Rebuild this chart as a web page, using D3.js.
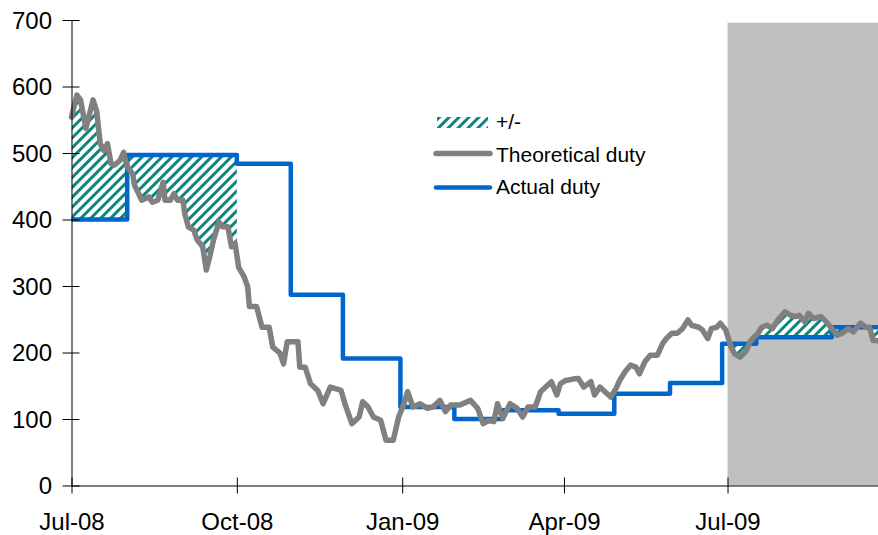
<!DOCTYPE html>
<html>
<head>
<meta charset="utf-8">
<script src="https://cdn.jsdelivr.net/npm/d3@7"></script>
<style>
  body { margin: 0; background: #fff; }
  svg { display: block; font-family: "Liberation Sans", Arial, sans-serif; }
</style>
</head>
<body>
<svg id="chart" width="878" height="535"></svg>
<script>
// Theoretical duty
const theoDates = [
  '2008-07-01','2008-07-04','2008-07-06','2008-07-09','2008-07-13','2008-07-15','2008-07-17','2008-07-19',
  '2008-07-21','2008-07-23','2008-07-25','2008-07-28','2008-07-30','2008-08-01','2008-08-04','2008-08-05',
  '2008-08-07','2008-08-09','2008-08-13','2008-08-15','2008-08-18','2008-08-21','2008-08-22','2008-08-25',
  '2008-08-27','2008-08-29','2008-09-01','2008-09-02','2008-09-04','2008-09-07','2008-09-09','2008-09-12',
  '2008-09-14','2008-09-16','2008-09-18','2008-09-21','2008-09-23','2008-09-26','2008-09-28','2008-09-30',
  '2008-10-02','2008-10-05','2008-10-07','2008-10-08','2008-10-12','2008-10-15','2008-10-19','2008-10-21',
  '2008-10-25','2008-10-27','2008-10-29','2008-11-04','2008-11-05','2008-11-08','2008-11-11','2008-11-15',
  '2008-11-18','2008-11-22','2008-11-28','2008-11-30','2008-12-04','2008-12-08','2008-12-10','2008-12-13',
  '2008-12-16','2008-12-20','2008-12-23','2008-12-27','2008-12-30','2009-01-02','2009-01-04','2009-01-07',
  '2009-01-11','2009-01-15','2009-01-18','2009-01-22','2009-01-25','2009-01-28','2009-02-02','2009-02-08',
  '2009-02-12','2009-02-15','2009-02-18','2009-02-21','2009-02-23','2009-02-26','2009-03-02','2009-03-06',
  '2009-03-09','2009-03-12','2009-03-16','2009-03-19','2009-03-23','2009-03-25','2009-03-28','2009-03-30',
  '2009-04-02','2009-04-06','2009-04-09','2009-04-12','2009-04-16','2009-04-18','2009-04-21','2009-04-25',
  '2009-04-27','2009-04-30','2009-05-02','2009-05-05','2009-05-08','2009-05-11','2009-05-13','2009-05-16',
  '2009-05-19','2009-05-23','2009-05-26','2009-05-28','2009-05-31','2009-06-03','2009-06-06','2009-06-09',
  '2009-06-11','2009-06-15','2009-06-17','2009-06-20','2009-06-22','2009-06-25','2009-06-27','2009-06-30',
  '2009-07-03','2009-07-05','2009-07-08','2009-07-11','2009-07-14','2009-07-18','2009-07-20','2009-07-23',
  '2009-07-26','2009-07-29','2009-08-02','2009-08-05','2009-08-08','2009-08-10','2009-08-13','2009-08-15',
  '2009-08-18','2009-08-22','2009-08-25','2009-08-28','2009-08-31','2009-09-03','2009-09-06','2009-09-09',
  '2009-09-13','2009-09-16','2009-09-18','2009-09-20','2009-09-22','2009-09-25'
];
const theoValues = [
  554, 587, 580, 537, 580, 563, 514, 504,
  514, 484, 482, 489, 501, 479, 469, 452,
  441, 429, 434, 426, 429, 456, 429, 429,
  439, 429, 429, 409, 389, 384, 369, 359,
  324, 345, 369, 396, 389, 389, 359, 364,
  328, 314, 299, 269, 269, 238, 238, 208,
  199, 183, 216, 216, 178, 178, 153, 143,
  123, 148, 143, 124, 93, 103, 126, 118,
  103, 98, 68, 68, 103, 123, 141, 118,
  123, 116, 118, 128, 111, 121, 121, 128,
  116, 93, 98, 96, 123, 101, 123, 116,
  103, 118, 118, 141, 151, 156, 136, 153,
  158, 160, 161, 148, 156, 136, 148, 138,
  133, 146, 158, 171, 181, 178, 168, 186,
  196, 196, 214, 221, 229, 229, 236, 249,
  241, 238, 234, 221, 236, 238, 244, 234,
  208, 198, 193, 201, 218, 229, 238, 241,
  236, 249, 261, 256, 254, 256, 246, 259,
  251, 254, 246, 236, 226, 229, 236, 231,
  244, 238, 238, 218, 218, 215
];

// Actual duty: value holds from each date until the next one
const actualDates = [
  '2008-07-01','2008-08-01','2008-10-01','2008-10-31','2008-11-29','2008-12-31','2009-01-30',
  '2009-02-26','2009-03-29','2009-04-29','2009-05-30','2009-06-28','2009-07-17','2009-08-28','2009-09-30'
];
const actualValues = [400, 497, 484, 287, 191, 118, 100, 113, 108, 138, 154, 213, 223, 238, 238];

const startDate = '2008-07-01';
const endDate = '2009-09-23';
const xTickDates = ['2008-07-01', '2008-10-01', '2009-01-01', '2009-04-01', '2009-07-01'];
const yTicks = [0, 100, 200, 300, 400, 500, 600, 700];
const shadeStart = '2009-07-01';
const shadeTop = 696;
const hatchPeriods = [['2008-07-01', '2008-10-01'], ['2009-07-01', '2009-09-30']];
const legendLabels = ['+/-', 'Theoretical duty', 'Actual duty'];

const parse = d3.timeParse('%Y-%m-%d');
const svg = d3.select('#chart');

const x = d3.scaleTime()
  .domain([parse(startDate), parse(endDate)])
  .range([71.5, 878.5]);
const y = d3.scaleLinear()
  .domain([0, 700])
  .range([485.5, 20]);

const theo = theoDates.map((d, i) => ({date: parse(d), value: theoValues[i]}));
const actual = actualDates.map((d, i) => ({date: parse(d), value: actualValues[i]}));

// hatch pattern
const defs = svg.append('defs');
const pat = defs.append('pattern')
  .attr('id', 'hatch')
  .attr('patternUnits', 'userSpaceOnUse')
  .attr('width', 7)
  .attr('height', 7)
  .attr('patternTransform', 'rotate(45)');
pat.append('rect').attr('width', 7).attr('height', 7).attr('fill', '#fff');
pat.append('rect').attr('width', 3).attr('height', 7).attr('fill', '#0f857d');

const clip = defs.append('clipPath').attr('id', 'hatch-clip');
clip.selectAll('rect')
  .data(hatchPeriods)
  .join('rect')
  .attr('x', d => x(parse(d[0])))
  .attr('width', d => x(parse(d[1])) - x(parse(d[0])))
  .attr('y', 0)
  .attr('height', 535);

// shaded forecast period
svg.append('rect')
  .attr('x', x(parse(shadeStart)))
  .attr('y', y(shadeTop))
  .attr('width', 878 - x(parse(shadeStart)))
  .attr('height', y(0) - y(shadeTop))
  .attr('fill', '#c0c0c0');

// area between the two lines: theoretical forward, actual steps backward
const stepCorners = [];
actual.forEach((d, i) => {
  if (i < actual.length - 1) {
    stepCorners.push([d.date, d.value]);
    stepCorners.push([actual[i + 1].date, d.value]);
  }
});
const polygon = theo.map(d => [d.date, d.value]).concat(stepCorners.reverse());
svg.append('path')
  .attr('clip-path', 'url(#hatch-clip)')
  .attr('fill', 'url(#hatch)')
  .attr('d', d3.line().x(d => x(d[0])).y(d => y(d[1]))(polygon) + 'Z');

// actual duty
svg.append('path')
  .datum(actual)
  .attr('fill', 'none')
  .attr('stroke', '#0066cc')
  .attr('stroke-width', 4.5)
  .attr('stroke-linejoin', 'round')
  .attr('d', d3.line().curve(d3.curveStepAfter).x(d => x(d.date)).y(d => y(d.value)));

// theoretical duty
svg.append('path')
  .datum(theo)
  .attr('fill', 'none')
  .attr('stroke', '#808080')
  .attr('stroke-width', 5.5)
  .attr('stroke-linejoin', 'round')
  .attr('stroke-linecap', 'round')
  .attr('d', d3.line().x(d => x(d.date)).y(d => y(d.value)));

// axes
const yAxisG = svg.append('g')
  .attr('transform', `translate(${x(parse(startDate))},0)`)
  .call(d3.axisLeft(y).tickValues(yTicks).tickSizeOuter(0))
  .attr('font-size', 24)
  .attr('font-family', null);
yAxisG.select('.domain').attr('stroke', '#000');
yAxisG.selectAll('.tick line').attr('x1', 8).attr('x2', -9).attr('stroke', '#000');
yAxisG.selectAll('.tick text').attr('x', -19.5).attr('dy', '0.34em').attr('fill', '#000');

const xAxisG = svg.append('g')
  .attr('transform', `translate(0,${y(0)})`)
  .call(d3.axisBottom(x)
    .tickValues(xTickDates.map(parse))
    .tickFormat(d3.timeFormat('%b-%y'))
    .tickSizeOuter(0))
  .attr('font-size', 24)
  .attr('font-family', null);
xAxisG.select('.domain').attr('stroke', '#000');
xAxisG.selectAll('.tick line').attr('y1', -8).attr('y2', 8).attr('stroke', '#000');
xAxisG.selectAll('.tick text').attr('y', 44.5).attr('dy', 0).attr('fill', '#000');

// legend
const legend = svg.append('g').attr('font-size', 21);
legend.append('rect')
  .attr('x', 437).attr('y', 117).attr('width', 51).attr('height', 11)
  .attr('fill', 'url(#hatch)');
legend.append('line')
  .attr('x1', 436).attr('x2', 490).attr('y1', 153.5).attr('y2', 153.5)
  .attr('stroke', '#808080').attr('stroke-width', 5.5).attr('stroke-linecap', 'round');
legend.append('line')
  .attr('x1', 436).attr('x2', 490).attr('y1', 187.5).attr('y2', 187.5)
  .attr('stroke', '#0066cc').attr('stroke-width', 4.5).attr('stroke-linecap', 'round');
legend.selectAll('text')
  .data(legendLabels)
  .join('text')
  .attr('x', 496)
  .attr('y', (d, i) => 129 + i * 32.5)
  .attr('fill', '#000')
  .text(d => d);
</script>
</body>
</html>
